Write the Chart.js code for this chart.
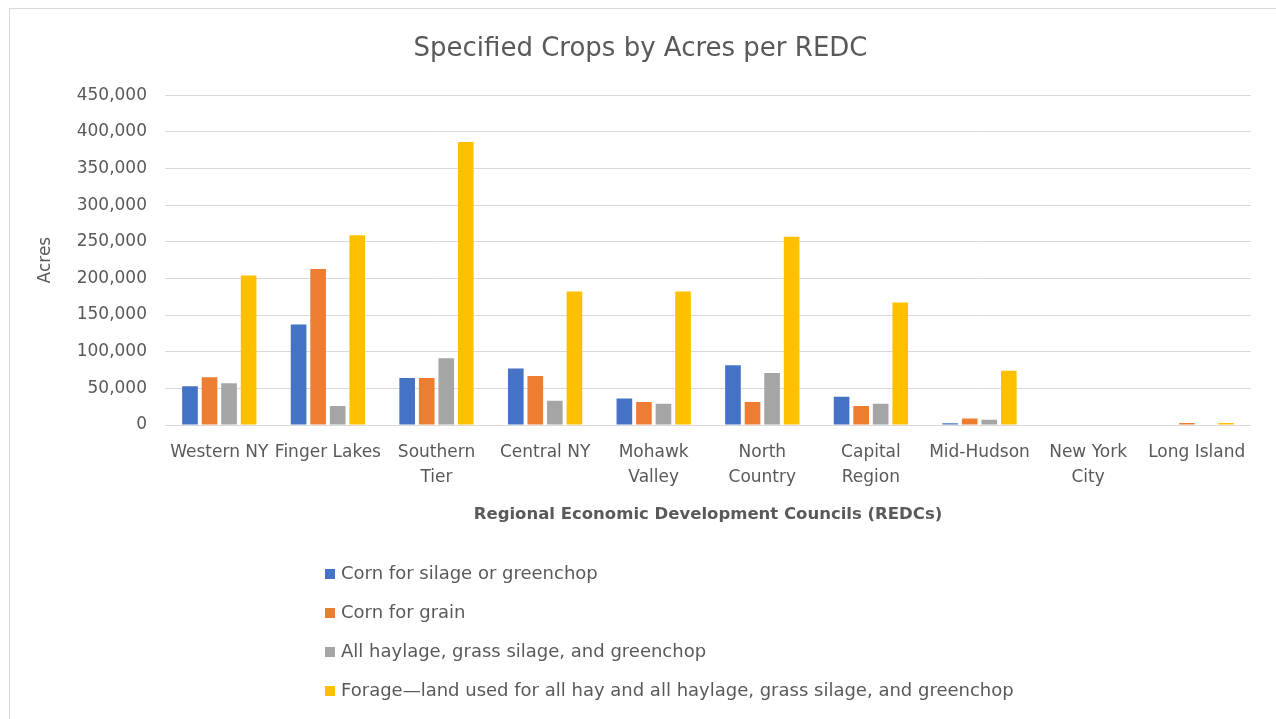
<!DOCTYPE html>
<html>
<head>
<meta charset="utf-8">
<script src="https://cdn.jsdelivr.net/npm/chart.js@4.4.0/dist/chart.umd.min.js"></script>
<style>
  html, body { margin: 0; padding: 0; background: #fff; overflow: hidden; }
  #wrap { position: absolute; left: 9px; top: 8px; width: 1266px; height: 712px;
          border: 1px solid #d9d9d9; border-bottom: none; }
  #wrap canvas { display: block; }
</style>
</head>
<body>
<div id="wrap"><canvas id="myChart" width="1266" height="711"></canvas></div>
<script>
const regions = [["Western NY"], ["Finger Lakes"], ["Southern", "Tier"], ["Central NY"], ["Mohawk", "Valley"],
  ["North", "Country"], ["Capital", "Region"], ["Mid-Hudson"], ["New York", "City"], ["Long Island"]];
const seriesNames = ["Corn for silage or greenchop", "Corn for grain",
  "All haylage, grass silage, and greenchop",
  "Forage\u2014land used for all hay and all haylage, grass silage, and greenchop"];
const cornSilage = [53000, 137000, 64000, 77000, 36000, 81500, 38500, 2300, 0, 0];
const cornGrain = [65000, 213000, 64000, 67000, 31500, 31500, 26000, 9000, 0, 2700];
const haylage = [57000, 26000, 91000, 33000, 29000, 71000, 29000, 7000, 0, 0];
const forage = [204000, 259000, 386000, 182000, 182000, 257000, 167000, 74000, 0, 2700];
const colors = ["#4472C4", "#ED7D31", "#A5A5A5", "#FFC000"];

const FONT = "'DejaVu Sans', sans-serif";
const TXT = "#595959";

// legend drawn as a vertical list below the axis title
const stackedLegend = {
  id: "stackedLegend",
  afterDraw(chart) {
    const ctx = chart.ctx;
    const area = chart.chartArea;
    ctx.save();
    ctx.font = "18px " + FONT;
    ctx.textBaseline = "middle";
    chart.data.datasets.forEach((ds, i) => {
      const x = area.left + 160;
      const y = area.bottom + 149 + i * 39;
      ctx.fillStyle = ds.backgroundColor;
      ctx.fillRect(x, y - 5, 10, 10);
      ctx.fillStyle = TXT;
      ctx.fillText(ds.label, x + 16, y);
    });
    ctx.restore();
  }
};

const CHART = document.getElementById("myChart");
let barChart = new Chart(CHART, {
  type: "bar",
  data: {
    labels: regions,
    datasets: [cornSilage, cornGrain, haylage, forage].map((d, i) => ({
      label: seriesNames[i],
      data: d,
      backgroundColor: colors[i],
      categoryPercentage: 0.72,
      barPercentage: 0.8
    }))
  },
  options: {
    responsive: false,
    animation: false,
    layout: { padding: { left: 20, right: 25, top: 0, bottom: 195 } },
    plugins: {
      legend: { display: false },
      tooltip: { enabled: false },
      title: {
        display: true,
        text: "Specified Crops by Acres per REDC",
        color: TXT,
        font: { family: FONT, size: 26, weight: "normal" },
        padding: { top: 25, bottom: 30 }
      }
    },
    scales: {
      x: {
        grid: { display: false },
        border: { display: false },
        ticks: {
          color: TXT, font: { family: FONT, size: 17, lineHeight: 1.47 },
          autoSkip: false, maxRotation: 0, padding: 7
        },
        title: {
          display: true,
          text: "Regional Economic Development Councils (REDCs)",
          color: TXT,
          font: { family: FONT, size: 16.5, weight: "bold" },
          padding: { top: 6, bottom: 0 }
        },
        afterFit: s => { s.height = 100; }
      },
      y: {
        min: 0, max: 450000,
        grid: { color: "#d9d9d9", drawTicks: false },
        border: { display: false },
        ticks: {
          stepSize: 50000, color: TXT, font: { family: FONT, size: 17 }, padding: 18,
          callback: v => v.toLocaleString("en-US")
        },
        title: {
          display: true, text: "Acres", color: TXT,
          font: { family: FONT, size: 17 }, padding: { top: 5, bottom: 0 }
        },
        afterFit: s => { s.width = 135; }
      }
    }
  },
  plugins: [stackedLegend]
});
</script>
</body>
</html>
